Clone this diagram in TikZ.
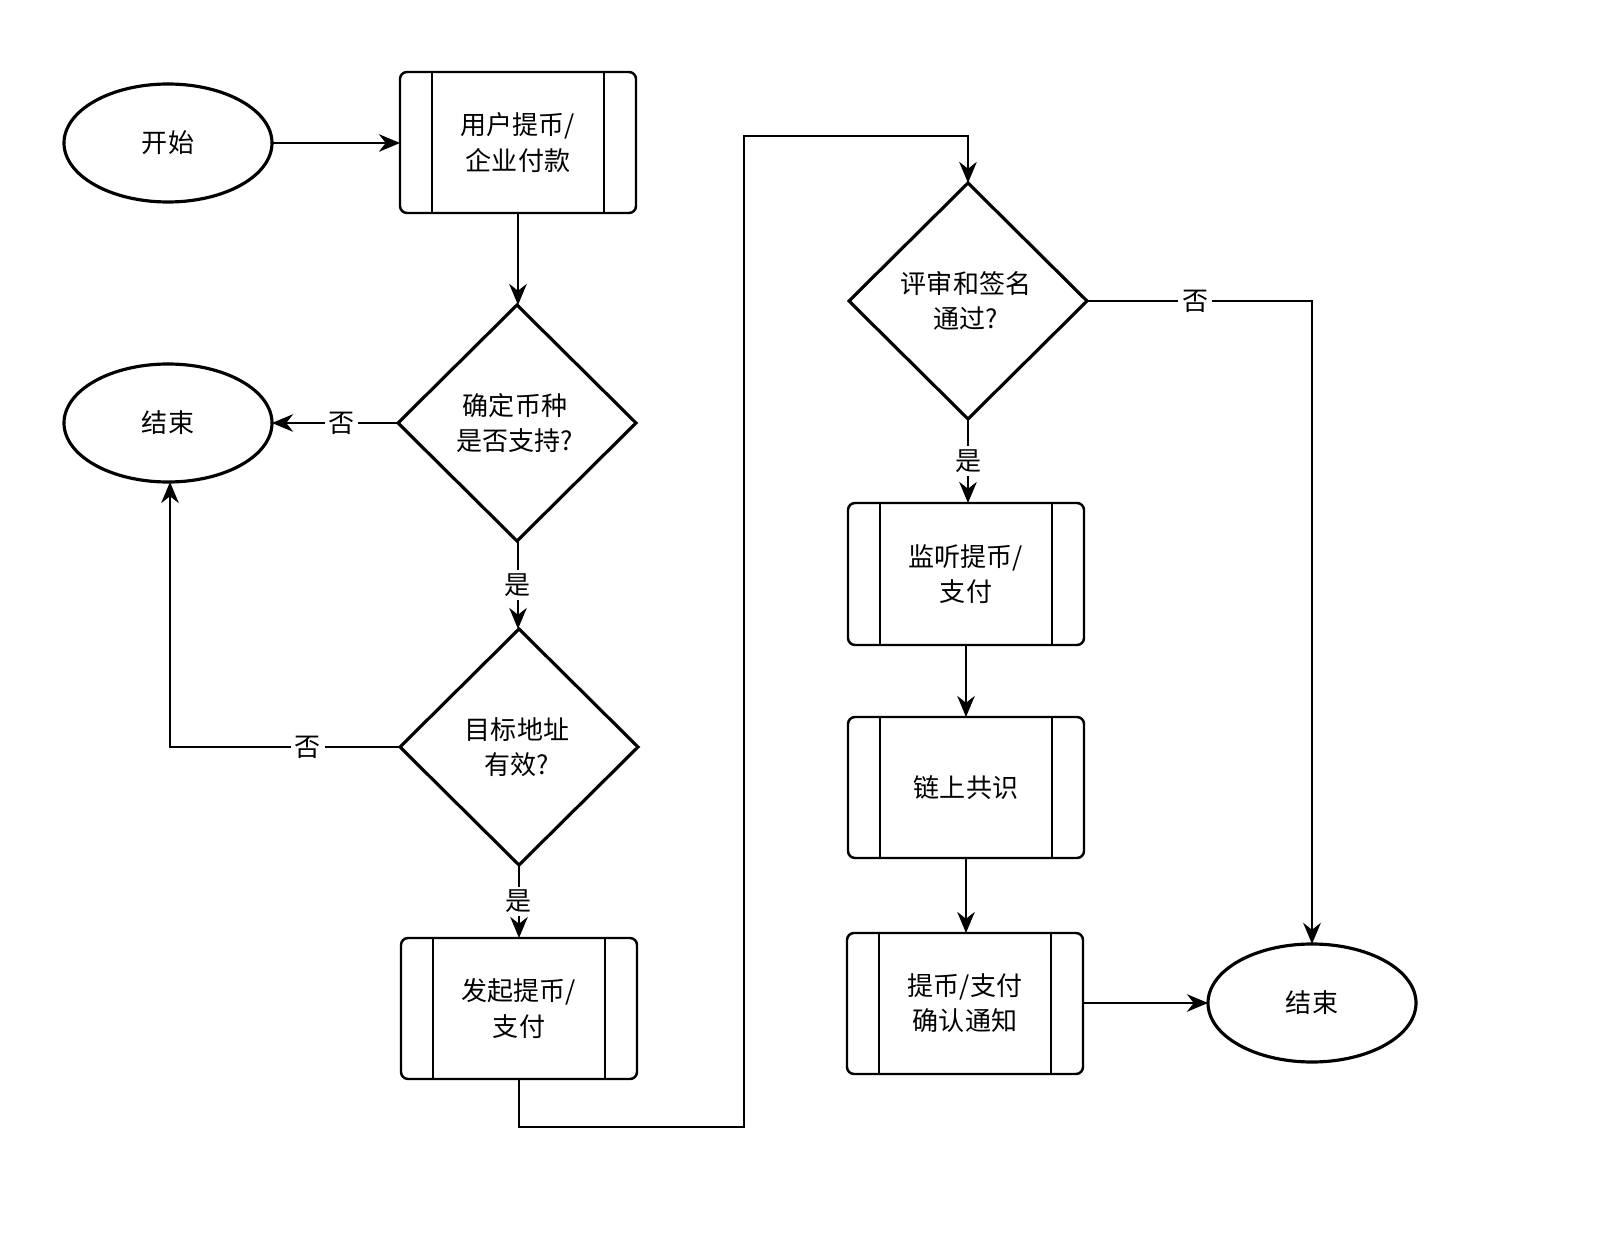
\documentclass[tikz,border=0pt]{standalone}
\usepackage{fontspec}
\setmainfont{Noto Sans CJK SC}
\usetikzlibrary{shapes.geometric,arrows.meta}
\begin{document}
\begin{tikzpicture}[x=0.01cm,y=-0.01cm,
  every node/.style={font=\fontsize{7.4}{10}\selectfont,align=center},
  term/.style={draw,ellipse,line width=0.9pt,minimum width=208\pgflinewidth,inner sep=0},
  dec/.style={draw,line width=0.9pt},
  proc/.style={draw,line width=0.7pt,rounded corners=2pt},
  con/.style={line width=0.6pt,-{Stealth[length=6pt,width=5pt]}},
  lbl/.style={fill=white,inner sep=1pt}]
\useasboundingbox (0,0) rectangle (1606,1240);
% terminals
\draw[line width=0.9pt] (168,143) ellipse (104 and 59);
\node (start) at (168,143) {开始};
\draw[line width=0.9pt] (168,423) ellipse (104 and 59);
\node (end1) at (168,423) {结束};
\draw[line width=0.9pt] (1312,1003) ellipse (104 and 59);
\node (end2) at (1312,1003) {结束};
% processes
\newcommand\myproc[6]{%
 \draw[proc] (#1,#2) rectangle (#3,#4);
 \draw[line width=0.7pt] (#1+32,#2) -- (#1+32,#4) (#3-32,#2) -- (#3-32,#4);
 \node (#5) at ({(#1+#3)/2},{(#2+#4)/2}) {#6};}
\myproc{400}{72}{636}{213}{p1}{用户提币/\\企业付款}
\myproc{401}{938}{637}{1079}{p2}{发起提币/\\支付}
\myproc{848}{503}{1084}{645}{p3}{监听提币/\\支付}
\myproc{848}{717}{1084}{858}{p4}{链上共识}
\myproc{847}{933}{1083}{1074}{p5}{提币/支付\\确认通知}
% decisions
\draw[dec] (517,305) -- (636,423) -- (517,541) -- (398,423) -- cycle;
\node (d1) at (515,423) {确定币种\\是否支持?};
\draw[dec] (519,629) -- (638,747) -- (519,865) -- (400,747) -- cycle;
\node (d2) at (517,747) {目标地址\\有效?};
\draw[dec] (968,183) -- (1087,301) -- (968,419) -- (849,301) -- cycle;
\node (d3) at (966,301) {评审和签名\\通过?};
% connectors
\draw[con] (272,143) -- (400,143);
\draw[con] (518,213) -- (518,305);
\draw[con] (398,423) -- node[lbl,pos=0.45]{否} (272,423);
\draw[con] (518,541) -- node[lbl]{是} (518,629);
\draw[con] (400,747) -- node[lbl,pos=0.4]{否} (170,747) -- (170,482);
\draw[con] (519,865) -- node[lbl]{是} (519,938);
\draw[con] (519,1079) -- (519,1127) -- (744,1127) -- (744,136) -- (968,136) -- (968,183);
\draw[con] (968,419) -- node[lbl]{是} (968,503);
\draw[con] (1087,301) -- node[lbl,pos=0.48]{否} (1312,301) -- (1312,944);
\draw[con] (966,645) -- (966,717);
\draw[con] (966,858) -- (966,933);
\draw[con] (1083,1003) -- (1208,1003);
\end{tikzpicture}
\end{document}
